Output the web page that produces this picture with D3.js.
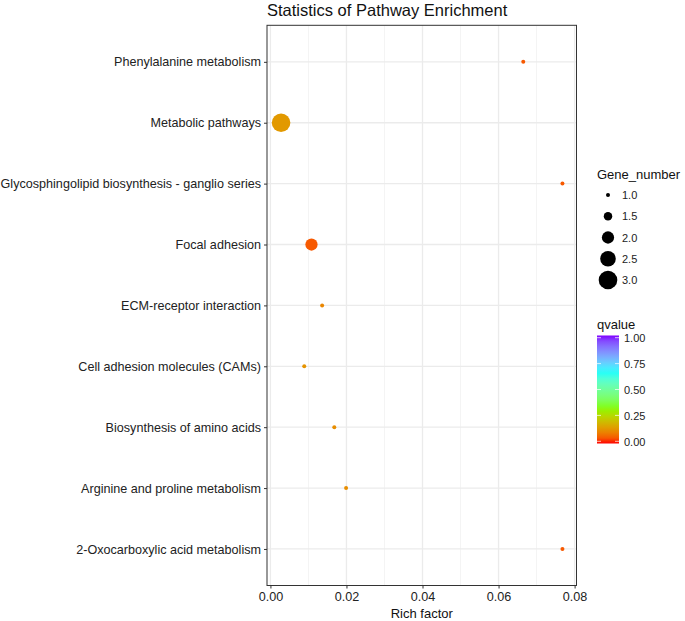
<!DOCTYPE html>
<html>
<head>
<meta charset="utf-8">
<script src="https://cdn.jsdelivr.net/npm/d3@7"></script>
<style>
  body { margin: 0; background: #fff; }
  svg { display: block; font-family: "Liberation Sans", Arial, Helvetica, sans-serif; }
</style>
</head>
<body>
<div id="chart"></div>
<script>
// pathways, top to bottom
const pathways = [
  "Phenylalanine metabolism",
  "Metabolic pathways",
  "Glycosphingolipid biosynthesis - ganglio series",
  "Focal adhesion",
  "ECM-receptor interaction",
  "Cell adhesion molecules (CAMs)",
  "Biosynthesis of amino acids",
  "Arginine and proline metabolism",
  "2-Oxocarboxylic acid metabolism"
];
const richFactor = [0.0665, 0.0028, 0.0768, 0.0108, 0.0136, 0.0089, 0.0168, 0.0199, 0.0768];
const geneNumber = [1, 3, 1, 2, 1, 1, 1, 1, 1];
const qvalue = [0.05, 0.14, 0.05, 0.05, 0.11, 0.13, 0.12, 0.12, 0.05];

const xTicks = [0, 0.02, 0.04, 0.06, 0.08];
const xMinor = [0.01, 0.03, 0.05, 0.07];
const sizeBreaks = [1.0, 1.5, 2.0, 2.5, 3.0];
const qBreaks = [0, 0.25, 0.5, 0.75, 1];
const qColours = ["#FF0000", "#80FF00", "#00FFFF", "#8000FF"]; // rainbow(4)

const W = 685, H = 621;
const panel = {left: 267, right: 576.5, top: 25.3, bottom: 585.5};

const data = pathways.map((p, i) => ({pathway: p, rich: richFactor[i], genes: geneNumber[i], q: qvalue[i]}));

const svg = d3.select("#chart").append("svg")
  .attr("width", W).attr("height", H);

// ggplot-like 5% expansion
const xmin = d3.min(richFactor), xmax = d3.max(richFactor);
const pad = (xmax - xmin) * 0.05;
const x = d3.scaleLinear().domain([xmin - pad, xmax + pad]).range([panel.left, panel.right]);
const y = d3.scalePoint().domain(pathways).range([panel.top, panel.bottom]).padding(0.6);
const r = d3.scalePow().exponent(0.5).domain([1, 3]).range([2, 9.3]);
const colour = d3.scaleLinear().domain([0, 1/3, 2/3, 1]).range(qColours).interpolate(d3.interpolateLab);

// panel background + grid
svg.append("rect")
  .attr("x", panel.left).attr("y", panel.top)
  .attr("width", panel.right - panel.left).attr("height", panel.bottom - panel.top)
  .attr("fill", "#fff");

svg.append("g").selectAll("line").data(xMinor).enter().append("line")
  .attr("x1", d => x(d)).attr("x2", d => x(d))
  .attr("y1", panel.top).attr("y2", panel.bottom)
  .attr("stroke", "#F4F4F4").attr("stroke-width", 1);

svg.append("g").selectAll("line").data(xTicks).enter().append("line")
  .attr("x1", d => x(d)).attr("x2", d => x(d))
  .attr("y1", panel.top).attr("y2", panel.bottom)
  .attr("stroke", "#EBEBEB").attr("stroke-width", 1.3);

svg.append("g").selectAll("line").data(pathways).enter().append("line")
  .attr("x1", panel.left).attr("x2", panel.right)
  .attr("y1", d => y(d)).attr("y2", d => y(d))
  .attr("stroke", "#EBEBEB").attr("stroke-width", 1.3);

// points
svg.append("g").selectAll("circle").data(data).enter().append("circle")
  .attr("cx", d => x(d.rich))
  .attr("cy", d => y(d.pathway))
  .attr("r", d => r(d.genes))
  .attr("fill", d => colour(d.q));

// panel border
svg.append("rect")
  .attr("x", panel.left).attr("y", panel.top)
  .attr("width", panel.right - panel.left).attr("height", panel.bottom - panel.top)
  .attr("fill", "none").attr("stroke", "#333").attr("stroke-width", 1);

// axes
const xAxis = svg.append("g")
  .attr("transform", "translate(0," + panel.bottom + ")")
  .call(d3.axisBottom(x).tickValues(xTicks).tickFormat(d3.format(".2f")).tickSize(3).tickPadding(4));
const yAxis = svg.append("g")
  .attr("transform", "translate(" + panel.left + ",0)")
  .call(d3.axisLeft(y).tickSize(3).tickPadding(3));
[xAxis, yAxis].forEach(a => {
  a.select(".domain").remove();
  a.selectAll(".tick line").attr("stroke", "#333");
  a.selectAll(".tick text").attr("fill", "#222").style("font-size", "12.6px")
    .style("font-family", "'Liberation Sans', Arial, sans-serif");
});

// titles
svg.append("text")
  .attr("x", panel.left).attr("y", 16)
  .style("font-size", "16.5px").attr("fill", "#111")
  .text("Statistics of Pathway Enrichment");

svg.append("text")
  .attr("x", (panel.left + panel.right) / 2).attr("y", 618)
  .attr("text-anchor", "middle")
  .style("font-size", "13px").attr("fill", "#111")
  .text("Rich factor");

// size legend
const sizeLeg = svg.append("g");
sizeLeg.append("text").attr("x", 597).attr("y", 179)
  .style("font-size", "13px").attr("fill", "#111").text("Gene_number");
const legY = d3.scalePoint().domain(sizeBreaks).range([195, 280]);
sizeLeg.selectAll("circle").data(sizeBreaks).enter().append("circle")
  .attr("cx", 608).attr("cy", d => legY(d)).attr("r", d => r(d)).attr("fill", "#000");
sizeLeg.selectAll("text.lab").data(sizeBreaks).enter().append("text")
  .attr("class", "lab")
  .attr("x", 622).attr("y", d => legY(d) + 4)
  .style("font-size", "11px").attr("fill", "#222")
  .text(d => d3.format(".1f")(d));

// colour bar legend
const defs = svg.append("defs");
const grad = defs.append("linearGradient").attr("id", "qgrad")
  .attr("x1", 0).attr("y1", 1).attr("x2", 0).attr("y2", 0);
d3.range(0, 1.0001, 0.05).forEach(t => {
  grad.append("stop").attr("offset", t).attr("stop-color", colour(t));
});
const cb = svg.append("g");
cb.append("text").attr("x", 597).attr("y", 329)
  .style("font-size", "13px").attr("fill", "#111").text("qvalue");
const barTop = 335.5, barBot = 443.5;
const qy = d3.scaleLinear().domain([0, 1]).range([barBot - 2.2, barTop + 2.2]);
cb.append("rect").attr("x", 597).attr("y", barTop).attr("width", 22).attr("height", barBot - barTop)
  .attr("fill", "url(#qgrad)");
cb.selectAll("line.l").data(qBreaks).enter().append("line")
  .attr("x1", 597).attr("x2", 601).attr("y1", d => qy(d)).attr("y2", d => qy(d))
  .attr("stroke", "#fff").attr("stroke-opacity", 0.7);
cb.selectAll("line.r").data(qBreaks).enter().append("line")
  .attr("x1", 615).attr("x2", 619).attr("y1", d => qy(d)).attr("y2", d => qy(d))
  .attr("stroke", "#fff").attr("stroke-opacity", 0.7);
cb.selectAll("text.lab").data(qBreaks).enter().append("text")
  .attr("class", "lab")
  .attr("x", 624).attr("y", d => qy(d) + 4.5)
  .style("font-size", "11px").attr("fill", "#222")
  .text(d => d3.format(".2f")(d));
</script>
</body>
</html>
